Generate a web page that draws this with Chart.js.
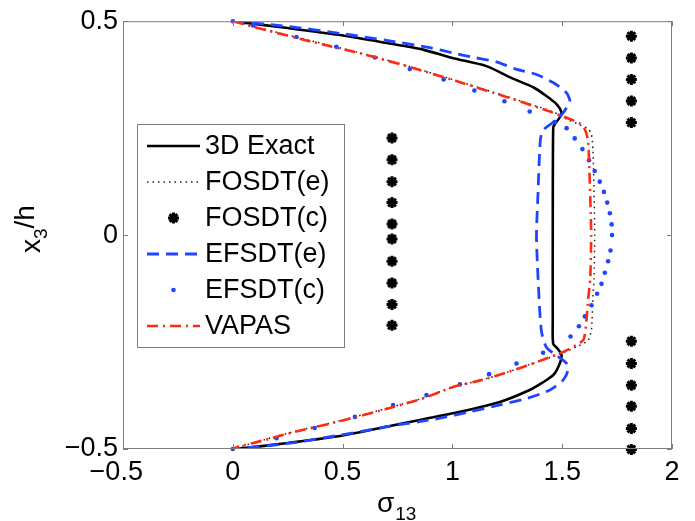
<!DOCTYPE html>
<html>
<head>
<meta charset="utf-8">
<script src="https://cdn.jsdelivr.net/npm/chart.js@4/dist/chart.umd.min.js"></script>
<style>
  html, body { margin: 0; padding: 0; background: #fff; }
  canvas { display: block; }
</style>
</head>
<body>
<canvas id="c" width="695" height="521"></canvas>
<script>
// Through-thickness transverse shear stress sigma_13 versus x3/h

const seriesNames = ['3D Exact', 'FOSDT(e)', 'FOSDT(c)', 'EFSDT(e)', 'EFSDT(c)', 'VAPAS'];

const xTicks = [-0.5, 0, 0.5, 1, 1.5, 2];
const yTicks = [-0.5, 0, 0.5];

// 3D Exact
const exactX = [0, 0.25, 0.496, 0.70, 0.87, 1.0, 1.155, 1.27, 1.37, 1.428, 1.474, 1.497, 1.489, 1.466, 1.459,
  1.457, 1.457, 1.459, 1.48, 1.497, 1.489, 1.46, 1.41, 1.352, 1.216, 1.034, 0.852, 0.70, 0.495, 0.25, 0.055, 0];
const exactY = [0.5, 0.484, 0.467, 0.449, 0.433, 0.414, 0.395, 0.367, 0.345, 0.325, 0.306, 0.287, 0.275, 0.259, 0.251,
  0, -0.2, -0.254, -0.266, -0.281, -0.30, -0.327, -0.345, -0.362, -0.39, -0.413, -0.432, -0.448, -0.469, -0.486, -0.498, -0.5];

// FOSDT(e)
const fosdtEX = [0, 0.13, 0.358, 0.586, 0.806, 1.018, 1.246, 1.459, 1.52, 1.57, 1.618, 1.633, 1.64, 1.645, 1.648,
  1.645, 1.64, 1.633, 1.618, 1.57, 1.504, 1.383, 1.254, 1.132, 1.003, 0.86, 0.723, 0.495, 0.267, 0.146, 0];
const fosdtEY = [0.5, 0.483, 0.454, 0.425, 0.394, 0.361, 0.324, 0.288, 0.271, 0.26, 0.248, 0.236, 0.2, 0.1, 0,
  -0.1, -0.145, -0.222, -0.246, -0.26, -0.275, -0.297, -0.32, -0.339, -0.355, -0.382, -0.402, -0.433, -0.461, -0.478, -0.5];

// FOSDT(c)
const fosdtCX = [1.815, 1.815, 1.815, 1.815, 1.815,
  0.725, 0.725, 0.725, 0.725, 0.725, 0.725, 0.725, 0.725, 0.725, 0.725,
  1.815, 1.815, 1.815, 1.815, 1.815, 1.815];
const fosdtCY = [0.465, 0.414, 0.364, 0.3135, 0.263,
  0.227, 0.176, 0.125, 0.076, 0.026, -0.009, -0.061, -0.112, -0.162, -0.211,
  -0.248, -0.300, -0.351, -0.400, -0.452, -0.501];

// EFSDT(e)
const efsdtEX = [0, 0.25, 0.495, 0.70, 0.897, 1.0, 1.09, 1.2, 1.29, 1.38, 1.46, 1.519, 1.535, 1.52, 1.50, 1.46, 1.43, 1.41,
  1.40, 1.39, 1.383, 1.39, 1.405, 1.428, 1.47, 1.52, 1.525, 1.504, 1.46, 1.428, 1.337, 1.216, 1.079, 0.943, 0.85, 0.70, 0.495, 0.25, 0];
const efsdtEY = [0.5, 0.488, 0.471, 0.455, 0.438, 0.426, 0.416, 0.405, 0.388, 0.376, 0.356, 0.333, 0.313, 0.298, 0.283, 0.264, 0.253, 0.243,
  0.22, 0.1, 0, -0.1, -0.223, -0.262, -0.28, -0.30, -0.318, -0.339, -0.357, -0.366, -0.382, -0.397, -0.413, -0.428, -0.436, -0.448, -0.467, -0.487, -0.5];

// EFSDT(c)
const efsdtCX = [0, 0.092, 0.29, 0.472, 0.647, 0.806, 0.96, 1.10, 1.237, 1.352, 1.466, 1.52, 1.557, 1.592, 1.622, 1.648, 1.671, 1.69, 1.705, 1.717, 1.725, 1.727,
  1.72, 1.709, 1.694, 1.679, 1.659, 1.633, 1.603, 1.576, 1.538, 1.413, 1.292, 1.167, 1.034, 0.882, 0.73, 0.556, 0.373, 0.199, 0];
const efsdtCY = [0.5, 0.49, 0.463, 0.44, 0.415, 0.388, 0.364, 0.338, 0.313, 0.289, 0.264, 0.25, 0.226, 0.201, 0.175, 0.15, 0.125, 0.101, 0.076, 0.051, 0.025, 0,
  -0.036, -0.061, -0.088, -0.114, -0.137, -0.164, -0.19, -0.213, -0.237, -0.275, -0.30, -0.325, -0.349, -0.374, -0.397, -0.425, -0.451, -0.475, -0.5];

// VAPAS
const vapasX = [0, 0.13, 0.358, 0.586, 0.806, 1.018, 1.246, 1.459, 1.58, 1.605, 1.618, 1.624, 1.63, 1.632,
  1.628, 1.618, 1.61, 1.595, 1.504, 1.383, 1.254, 1.132, 1.003, 0.86, 0.723, 0.495, 0.267, 0.146, 0.024, 0];
const vapasY = [0.5, 0.482, 0.452, 0.424, 0.393, 0.36, 0.323, 0.286, 0.261, 0.245, 0.22, 0.15, 0.05, 0,
  -0.1, -0.15, -0.2, -0.246, -0.273, -0.297, -0.32, -0.339, -0.355, -0.383, -0.403, -0.434, -0.462, -0.479, -0.495, -0.5];

const toPts = (xs, ys) => xs.map((x, i) => ({ x: x, y: ys[i] }));

const FONT = '"Liberation Sans", Arial, Helvetica, sans-serif';
const BLUE = '#1f45ff';
const RED = '#ff2a12';
const FRAME = '#7d7d7d';

const fmt = v => (v < 0 ? '\u2212' : '') + Math.abs(v);

const datasets = [
  { label: seriesNames[0], data: toPts(exactX, exactY), showLine: true, borderColor: '#000', borderWidth: 2.6,
    pointRadius: 0, tension: 0.25, order: 6 },
  { label: seriesNames[1], data: toPts(fosdtEX, fosdtEY), showLine: true, borderColor: '#222', borderWidth: 1.5,
    borderDash: [1.5, 4], pointRadius: 0, tension: 0.2, order: 5 },
  { label: seriesNames[2], data: toPts(fosdtCX, fosdtCY), showLine: false, pointStyle: 'star', pointRadius: 5.5,
    borderColor: '#000', backgroundColor: '#000', pointBorderWidth: 3, order: 4, clip: false },
  { label: seriesNames[3], data: toPts(efsdtEX, efsdtEY), showLine: true, borderColor: BLUE, borderWidth: 2.8,
    borderDash: [12, 7], pointRadius: 0, tension: 0.25, order: 3 },
  { label: seriesNames[4], data: toPts(efsdtCX, efsdtCY), showLine: false, pointStyle: 'circle', pointRadius: 2.3,
    borderWidth: 0, pointBorderWidth: 0, backgroundColor: BLUE, borderColor: BLUE, order: 2, clip: false },
  { label: seriesNames[5], data: toPts(vapasX, vapasY), showLine: true, borderColor: RED, borderWidth: 2.6,
    borderDash: [11, 5, 2, 5], pointRadius: 0, tension: 0.2, order: 1 }
];

// Frame with inward ticks on all four sides, boxed legend, axis titles
const decorations = {
  id: 'decorations',
  afterDraw(chart) {
    const ctx = chart.ctx;
    const a = chart.chartArea;
    const xs = chart.scales.x, ys = chart.scales.y;
    ctx.save();
    ctx.strokeStyle = FRAME;
    ctx.lineWidth = 1;
    ctx.setLineDash([]);
    ctx.strokeRect(a.left + 0.5, a.top + 0.5, a.right - a.left - 1, a.bottom - a.top - 1);
    const tl = 5;
    ctx.beginPath();
    xTicks.forEach(v => {
      const p = Math.round(xs.getPixelForValue(v)) + 0.5;
      ctx.moveTo(p, a.bottom); ctx.lineTo(p, a.bottom - tl);
      ctx.moveTo(p, a.top); ctx.lineTo(p, a.top + tl);
    });
    yTicks.forEach(v => {
      const p = Math.round(ys.getPixelForValue(v)) + 0.5;
      ctx.moveTo(a.left, p); ctx.lineTo(a.left + tl, p);
      ctx.moveTo(a.right, p); ctx.lineTo(a.right - tl, p);
    });
    ctx.stroke();

    // legend
    const lx = 137, ly = 124, lw = 207, lh = 223;
    ctx.fillStyle = '#fff';
    ctx.fillRect(lx, ly, lw, lh);
    ctx.strokeStyle = FRAME;
    ctx.strokeRect(lx + 0.5, ly + 0.5, lw, lh);
    const rowY = [146, 182, 218, 254, 290, 326];
    const x0 = 147, x1 = 200, xm = (x0 + x1) / 2;
    chart.data.datasets.forEach((ds, i) => {
      const y = rowY[i];
      ctx.save();
      if (ds.showLine) {
        ctx.strokeStyle = ds.borderColor;
        ctx.lineWidth = ds.borderWidth;
        ctx.setLineDash(ds.borderDash || []);
        ctx.beginPath();
        ctx.moveTo(x0, y); ctx.lineTo(x1, y);
        ctx.stroke();
      } else if (ds.pointStyle === 'star') {
        ctx.strokeStyle = ds.borderColor;
        ctx.lineWidth = ds.pointBorderWidth;
        ctx.beginPath();
        const r = ds.pointRadius;
        for (let k = 0; k < 4; k++) {
          const ang = k * Math.PI / 4;
          ctx.moveTo(xm - r * Math.cos(ang), y - r * Math.sin(ang));
          ctx.lineTo(xm + r * Math.cos(ang), y + r * Math.sin(ang));
        }
        ctx.stroke();
      } else {
        ctx.fillStyle = ds.backgroundColor;
        ctx.beginPath();
        ctx.arc(xm, y, ds.pointRadius, 0, Math.PI * 2);
        ctx.fill();
      }
      ctx.restore();
      ctx.fillStyle = '#000';
      ctx.font = '27px ' + FONT;
      ctx.textBaseline = 'middle';
      ctx.textAlign = 'left';
      ctx.fillText(ds.label, 205, y + 1);
    });

    // x-axis title: sigma_13
    ctx.fillStyle = '#000';
    ctx.textBaseline = 'alphabetic';
    ctx.textAlign = 'left';
    ctx.font = '28px ' + FONT;
    ctx.fillText('\u03c3', 377, 512);
    const sw = ctx.measureText('\u03c3').width;
    ctx.font = '19px ' + FONT;
    ctx.fillText('13', 377 + sw + 1, 520);

    // y-axis title: x_3/h
    ctx.save();
    ctx.translate(40, 0);
    ctx.rotate(-Math.PI / 2);
    let u = -253;
    ctx.font = '28px ' + FONT;
    ctx.fillText('x', u, 0);
    u += ctx.measureText('x').width;
    ctx.font = '19px ' + FONT;
    ctx.fillText('3', u, 7);
    u += ctx.measureText('3').width;
    ctx.font = '28px ' + FONT;
    ctx.fillText('/h', u, -6);
    ctx.restore();

    ctx.restore();
  }
};

new Chart(document.getElementById('c'), {
  type: 'scatter',
  data: { datasets: datasets },
  plugins: [decorations],
  options: {
    responsive: false,
    animation: false,
    devicePixelRatio: 1,
    events: [],
    layout: { padding: { left: 0, top: 20, right: 23, bottom: 0 } },
    plugins: { legend: { display: false }, tooltip: { enabled: false } },
    scales: {
      x: {
        type: 'linear', min: -0.5, max: 2,
        afterBuildTicks: s => { s.ticks = xTicks.map(v => ({ value: v })); },
        afterFit: s => { s.height = 72; },
        grid: { display: false, drawTicks: false },
        border: { display: false },
        ticks: { color: '#000', font: { family: FONT, size: 27 }, padding: 7, maxRotation: 0, autoSkip: false,
          callback: v => fmt(v) + (v < 0 ? '\u2002' : '') }
      },
      y: {
        type: 'linear', min: -0.5, max: 0.5,
        afterBuildTicks: s => { s.ticks = yTicks.map(v => ({ value: v })); },
        afterFit: s => { s.width = 123; },
        grid: { display: false, drawTicks: false },
        border: { display: false },
        ticks: { color: '#000', font: { family: FONT, size: 27 }, padding: 5, autoSkip: false, callback: v => fmt(v) }
      }
    }
  }
});
</script>
</body>
</html>
